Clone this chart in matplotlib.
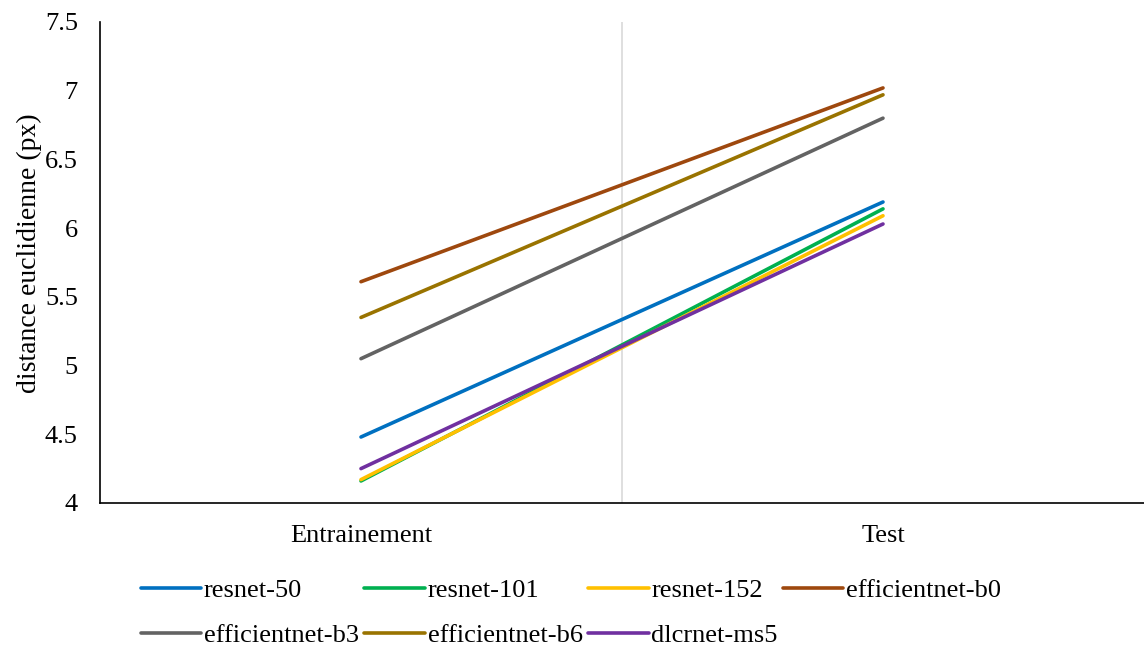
import matplotlib
matplotlib.use("Agg")
import matplotlib.pyplot as plt

plt.rcParams["font.family"] = ["Liberation Serif", "DejaVu Serif"]

phases = ["Entrainement", "Test"]
models = ["resnet-50", "resnet-101", "resnet-152", "efficientnet-b0",
          "efficientnet-b3", "efficientnet-b6", "dlcrnet-ms5"]
resnet50 = [4.48, 6.19]
resnet101 = [4.16, 6.14]
resnet152 = [4.17, 6.09]
effb0 = [5.61, 7.02]
effb3 = [5.05, 6.80]
effb6 = [5.35, 6.97]
dlcrnet = [4.25, 6.03]
series = [resnet50, resnet101, resnet152, effb0, effb3, effb6, dlcrnet]
colors = ["#0070C0", "#00B050", "#FFC000", "#9E480E",
          "#636363", "#997300", "#7030A0"]

fig = plt.figure(figsize=(11.44, 6.46), dpi=100)
ax = fig.add_axes([0.0874, 0.2214, 0.9126, 0.7446])

x = list(range(len(phases)))
handles = []
for name, vals, c in zip(models, series, colors):
    h, = ax.plot(x, vals, color=c, lw=2.6, solid_capstyle="round", label=name)
    handles.append(h)

# separator between the two categories
ax.axvline(0.5, color="#D9D9D9", lw=1.2, zorder=0)

ax.set_xlim(-0.5, 1.5)
ax.set_ylim(4, 7.5)
ax.set_yticks([4, 4.5, 5, 5.5, 6, 6.5, 7, 7.5])
ax.set_yticklabels(["4", "4.5", "5", "5.5", "6", "6.5", "7", "7.5"])
ax.set_xticks(x)
ax.set_xticklabels(phases)
ax.tick_params(axis="both", length=0, labelsize=19)
ax.tick_params(axis="y", pad=16)
ax.tick_params(axis="x", pad=16)
ax.spines["top"].set_visible(False)
ax.spines["right"].set_visible(False)
ax.spines["left"].set_linewidth(1.2)
ax.spines["bottom"].set_linewidth(1.2)
ax.set_ylabel("distance euclidienne (px)", fontsize=20, labelpad=2)
ax.yaxis.label.set_y(0.52)

# legend in row order (matplotlib fills columns first)
order = [0, 4, 1, 5, 2, 6, 3]
labels = [models[i] for i in order]
fig.legend([handles[i] for i in order], labels,
           loc="lower center", bbox_to_anchor=(0.499, -0.038), ncol=4,
           frameon=False, fontsize=19, handlelength=2.3, handletextpad=0.1,
           columnspacing=0.2, labelspacing=0.8)

fig.savefig("out.png", dpi=100)
